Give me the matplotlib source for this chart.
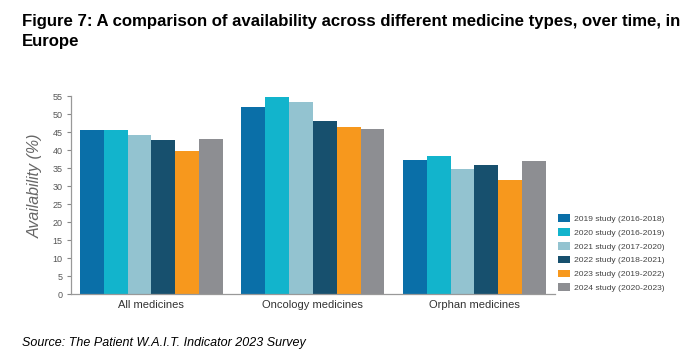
import numpy as np
import matplotlib.pyplot as plt

plt.rcParams['font.family'] = ['Liberation Sans', 'DejaVu Sans']

categories = ['All medicines', 'Oncology medicines', 'Orphan medicines']
series_labels = ['2019 study (2016-2018)', '2020 study (2016-2019)', '2021 study (2017-2020)',
                 '2022 study (2018-2021)', '2023 study (2019-2022)', '2024 study (2020-2023)']
values_2019 = [45.6, 51.9, 37.2]
values_2020 = [45.5, 54.8, 38.3]
values_2021 = [44.1, 53.3, 34.9]
values_2022 = [42.7, 48.1, 35.8]
values_2023 = [39.9, 46.3, 31.7]
values_2024 = [43.0, 46.0, 37.0]
colors = ['#0a6fa8', '#12b4cc', '#93c3d0', '#17506e', '#f7981d', '#8d8e92']

all_values = [values_2019, values_2020, values_2021, values_2022, values_2023, values_2024]

fig = plt.figure(figsize=(6.93, 3.56), dpi=100)
ax = fig.add_axes([0.102, 0.173, 0.699, 0.557])

x = np.arange(len(categories))
width = 0.1475
n = len(all_values)
for i, (vals, lab, col) in enumerate(zip(all_values, series_labels, colors)):
    ax.bar(x + (i - (n - 1) / 2) * width, vals, width, color=col, label=lab)

ax.set_xlim(-0.5, 2.5)
ax.set_ylim(0, 55)
ax.set_yticks(range(0, 56, 5))
ax.set_xticks(x)
ax.set_xticklabels(categories, fontsize=8, color='#333333')
ax.tick_params(axis='x', length=0, pad=4)
ax.tick_params(axis='y', length=3, width=0.8, color='#888888', labelsize=6.5,
               labelcolor='#555555', pad=3)
for s in ['top', 'right']:
    ax.spines[s].set_visible(False)
for s in ['left', 'bottom']:
    ax.spines[s].set_color('#999999')
    ax.spines[s].set_linewidth(0.9)
ax.set_ylabel('Availability (%)', fontsize=11.5, style='italic', color='#666666')
ax.yaxis.set_label_coords(-0.057, 0.55)

leg = ax.legend(loc='lower left', bbox_to_anchor=(1.0, -0.005), frameon=False,
                fontsize=6.1, handlelength=1.4, handleheight=1.0, handletextpad=0.4,
                labelspacing=0.6, borderaxespad=0)
for t in leg.get_texts():
    t.set_color('#444444')

fig.text(0.032, 0.962, 'Figure 7: A comparison of availability across different medicine types, over time, in\nEurope',
         fontsize=12.1, fontweight='bold', va='top', ha='left', linespacing=1.45)
fig.text(0.032, 0.036, 'Source: The Patient W.A.I.T. Indicator 2023 Survey', fontsize=9,
         style='italic', va='center', ha='left')

fig.savefig('out.png', dpi=100)
